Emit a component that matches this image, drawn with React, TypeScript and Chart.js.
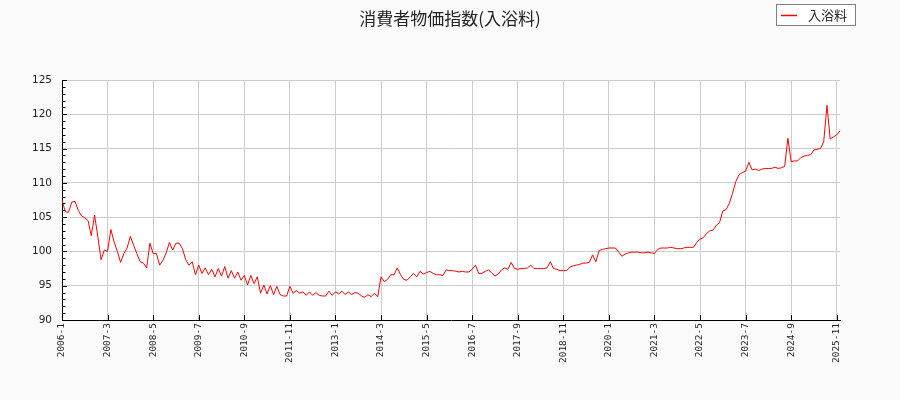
import React, { useEffect, useRef } from "react";
import { Chart, registerables } from "chart.js";

Chart.register(...registerables);

const TITLE = "消費者物価指数(入浴料)";
const SERIES_NAME = "入浴料";

const START_YEAR = 2006;
const MONTH_COUNT = 240; // 2006-1 .. 2025-12
const TICK_EVERY = 14;

const Y_MIN = 90;
const Y_MAX = 125;
const Y_STEP = 5;

const months: string[] = [];
for (let k = 0; k < MONTH_COUNT; k++) {
  months.push(`${START_YEAR + Math.floor(k / 12)}-${(k % 12) + 1}`);
}

const values: number[] = [
  107.5, 105.8, 105.7, 107.2, 107.3, 106.0, 105.2, 104.9, 104.5, 102.3,
  105.3, 102.2, 98.8, 100.2, 100.0, 103.2, 101.4, 100.0, 98.4, 99.7,
  100.5, 102.2, 100.9, 99.7, 98.5, 98.3, 97.6, 101.2, 99.7, 99.7,
  98.0, 98.7, 99.8, 101.3, 100.2, 101.2, 101.2, 100.4, 98.8, 98.0,
  98.5, 96.6, 98.0, 96.8, 97.6, 96.6, 97.4, 96.3, 97.5, 96.4,
  97.8, 96.1, 97.2, 96.1, 97.0, 95.8, 96.5, 95.1, 96.5, 95.3,
  96.3, 93.9, 95.1, 93.8, 95.0, 93.7, 94.9, 93.7, 93.5, 93.5,
  94.9, 93.9, 94.3, 93.9, 94.1, 93.6, 94.1, 93.6, 94.0, 93.6,
  93.5, 93.5, 94.2, 93.6, 94.1, 93.8, 94.2, 93.7, 94.1, 93.7,
  94.0, 93.9, 93.5, 93.3, 93.7, 93.4, 93.9, 93.4, 96.3, 95.6,
  95.9, 96.6, 96.6, 97.6, 96.6, 95.9, 95.8, 96.3, 96.8, 96.3,
  97.1, 96.7, 96.9, 97.1, 96.8, 96.6, 96.6, 96.5, 97.3, 97.2,
  97.2, 97.1, 97.0, 97.1, 97.0, 97.0, 97.4, 98.0, 96.8, 96.8,
  97.1, 97.3, 96.9, 96.4, 96.7, 97.3, 97.6, 97.4, 98.4, 97.5,
  97.4, 97.5, 97.5, 97.6, 98.0, 97.5, 97.5, 97.5, 97.5, 97.6,
  98.5, 97.5, 97.4, 97.2, 97.2, 97.2, 97.7, 97.9, 98.0, 98.1,
  98.3, 98.3, 98.4, 99.5, 98.5, 100.1, 100.3, 100.4, 100.5, 100.5,
  100.5, 99.9, 99.3, 99.6, 99.8, 99.9, 99.9, 99.9, 99.8, 99.8,
  99.9, 99.8, 99.7, 100.3, 100.5, 100.5, 100.5, 100.6, 100.5, 100.4,
  100.4, 100.5, 100.6, 100.6, 100.6, 101.3, 101.8, 102.0, 102.6, 103.0,
  103.1, 103.8, 104.2, 105.9, 106.1, 107.0, 108.5, 110.2, 111.2, 111.5,
  111.7, 113.0, 111.9, 112.0, 111.8, 112.0, 112.1, 112.1, 112.1, 112.3,
  112.1, 112.2, 112.4, 116.5, 113.1, 113.2, 113.2, 113.7, 113.9, 114.0,
  114.1, 114.8, 114.9, 115.0, 116.0, 121.3, 116.4, 116.7, 117.0, 117.6,
];

const LINE_COLOR = "#ff0000";
const GRID_COLOR = "#cccccc";
const PAGE_BG = "#fafafa";
const TEXT_COLOR = "#222222";

const decorPlugin = {
  id: "decor",
  beforeDraw(chart: any) {
    const { ctx, chartArea: a } = chart;
    ctx.save();
    ctx.fillStyle = PAGE_BG;
    ctx.fillRect(0, 0, chart.width, chart.height);
    ctx.fillStyle = "#ffffff";
    ctx.fillRect(a.left, a.top, a.right - a.left, a.bottom - a.top);
    ctx.restore();
  },
  afterDraw(chart: any) {
    const { ctx, chartArea: a, scales } = chart;
    const ys = scales.y;
    const xs = scales.x;
    ctx.save();
    // inward ticks
    ctx.strokeStyle = "#000";
    ctx.lineWidth = 1;
    ctx.beginPath();
    for (let v = Y_MIN; v <= Y_MAX; v++) {
      const py = Math.round(ys.getPixelForValue(v)) + 0.5;
      const len = v % Y_STEP === 0 ? 5 : 3.5;
      ctx.moveTo(a.left, py);
      ctx.lineTo(a.left + len, py);
    }
    for (let k = 0; k < months.length; k += TICK_EVERY) {
      const px = Math.round(xs.getPixelForValue(k)) + 0.5;
      ctx.moveTo(px, a.bottom);
      ctx.lineTo(px, a.bottom - 5);
    }
    ctx.stroke();

    // title
    ctx.fillStyle = TEXT_COLOR;
    ctx.font = '17px "Noto Sans CJK JP"';
    ctx.textAlign = "center";
    ctx.textBaseline = "middle";
    ctx.fillText(TITLE, 450, 18.5);

    // legend
    ctx.fillStyle = "#ffffff";
    ctx.fillRect(776.5, 4.5, 79, 21);
    ctx.strokeStyle = "#808080";
    ctx.lineWidth = 1;
    ctx.strokeRect(776.5, 4.5, 79, 21);
    ctx.strokeStyle = LINE_COLOR;
    ctx.lineWidth = 1.5;
    ctx.beginPath();
    ctx.moveTo(781, 15.5);
    ctx.lineTo(797, 15.5);
    ctx.stroke();
    ctx.fillStyle = TEXT_COLOR;
    ctx.font = '13px "Noto Sans CJK JP"';
    ctx.textAlign = "left";
    ctx.textBaseline = "middle";
    ctx.fillText(SERIES_NAME, 808, 15.5);
    ctx.restore();
  },
};

export default function App() {
  const ref = useRef<HTMLCanvasElement | null>(null);

  useEffect(() => {
    document.body.style.margin = "0";
    const canvas = ref.current;
    if (!canvas) return;
    const chart = new Chart(canvas, {
      type: "line",
      data: {
        labels: months,
        datasets: [
          {
            label: SERIES_NAME,
            data: values,
            borderColor: LINE_COLOR,
            backgroundColor: LINE_COLOR,
            borderWidth: 1,
            pointRadius: 0,
            pointHoverRadius: 0,
            tension: 0,
            fill: false,
          },
        ],
      },
      options: {
        responsive: false,
        animation: false,
        events: [],
        layout: { padding: { top: 80, right: 60, left: 0, bottom: 0 } },
        plugins: {
          legend: { display: false },
          title: { display: false },
          tooltip: { enabled: false },
        },
        scales: {
          x: {
            type: "category",
            offset: false,
            afterFit: (s: any) => {
              s.height = 80;
            },
            grid: {
              drawTicks: false,
              color: (c: any) => (c.index % TICK_EVERY === 0 ? GRID_COLOR : "rgba(0,0,0,0)"),
              lineWidth: 1,
            },
            border: { display: true, color: "#000", width: 1 },
            ticks: {
              autoSkip: false,
              maxRotation: 90,
              minRotation: 90,
              padding: 3,
              color: TEXT_COLOR,
              font: { family: '"DejaVu Sans Mono"', size: 9.5 },
              callback: (_v: any, idx: number) => (idx % TICK_EVERY === 0 ? months[idx] : ""),
            },
          },
          y: {
            min: Y_MIN,
            max: Y_MAX,
            afterFit: (s: any) => {
              s.width = 62;
            },
            grid: { drawTicks: false, color: GRID_COLOR, lineWidth: 1 },
            border: { display: true, color: "#000", width: 1 },
            ticks: {
              stepSize: Y_STEP,
              padding: 10,
              color: TEXT_COLOR,
              font: { family: '"DejaVu Sans"', size: 10.5 },
            },
          },
        },
      },
      plugins: [decorPlugin],
    });
    return () => chart.destroy();
  }, []);

  return (
    <div style={{ position: "absolute", left: 0, top: 0, width: 900, height: 400 }}>
      <canvas ref={ref} width={900} height={400} style={{ display: "block" }} />
    </div>
  );
}
